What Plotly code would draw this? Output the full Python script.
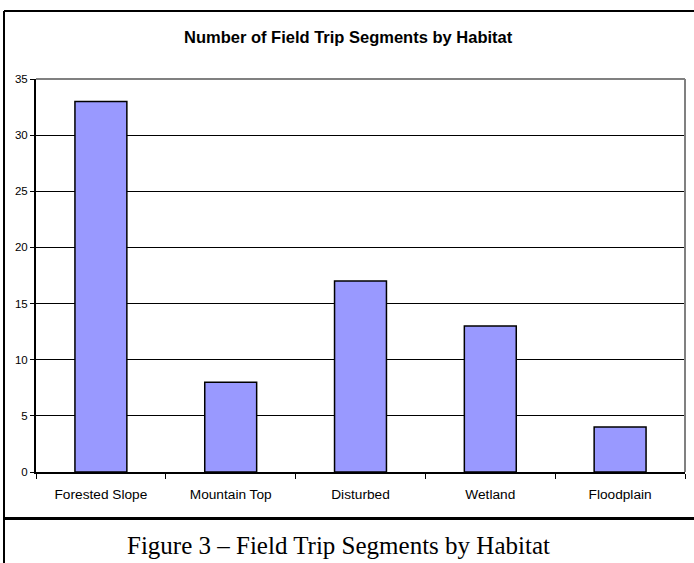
import plotly.graph_objects as go

categories = ["Forested Slope", "Mountain Top", "Disturbed", "Wetland", "Floodplain"]
segments = [33, 8, 17, 13, 4]
y_ticks = [0, 5, 10, 15, 20, 25, 30, 35]

W, H = 694, 563
L, R, T, B = 36, 685, 79, 472

def px(x):
    return (x - L) / (R - L)

def py(y):
    return (B - y) / (B - T)

fig = go.Figure()
fig.add_trace(go.Bar(
    x=categories, y=segments,
    marker=dict(color="#9999FF", line=dict(color="black", width=1.5)),
    width=0.4,
))

shapes = [
    dict(type="line", xref="paper", yref="paper", x0=0, x1=1, y0=1, y1=1,
         line=dict(color="#808080", width=2), layer="above"),
    dict(type="line", xref="paper", yref="paper", x0=1, x1=1, y0=0, y1=1,
         line=dict(color="#808080", width=2), layer="above"),
    dict(type="line", xref="paper", yref="paper", x0=px(4), x1=px(4), y0=py(11), y1=py(563),
         line=dict(color="black", width=2)),
    dict(type="line", xref="paper", yref="paper", x0=px(4), x1=px(700), y0=py(11), y1=py(11),
         line=dict(color="black", width=2)),
    dict(type="line", xref="paper", yref="paper", x0=px(4), x1=px(700), y0=py(518.5), y1=py(518.5),
         line=dict(color="black", width=3)),
]

fig.update_layout(
    width=W, height=H,
    margin=dict(l=L, r=W - R, t=T, b=H - B, pad=0),
    paper_bgcolor="white", plot_bgcolor="white",
    showlegend=False,
    font=dict(family="Liberation Sans, Arial, sans-serif", color="black"),
    shapes=shapes,
    xaxis=dict(
        tickson="boundaries", ticks="outside", ticklen=5, tickwidth=1, tickcolor="black",
        showline=True, linecolor="black", linewidth=2,
        showgrid=False, tickfont=dict(size=13.7), range=[-0.5, 4.5],
        ticklabelstandoff=9,
    ),
    yaxis=dict(
        range=[0, 35], tickvals=y_ticks, ticks="outside", ticklen=4, tickwidth=1,
        tickcolor="black", showline=True, linecolor="black", linewidth=2,
        showgrid=True, gridcolor="black", gridwidth=1, zeroline=False,
        tickfont=dict(size=11.5), ticklabelstandoff=0,
    ),
    annotations=[
        dict(text="<b>Number of Field Trip Segments by Habitat</b>", xref="paper", yref="paper",
             x=px(348), y=py(37), showarrow=False, font=dict(size=16.5),
             xanchor="center", yanchor="middle"),
        dict(text="Figure 3 \u2013 Field Trip Segments by Habitat", xref="paper", yref="paper",
             x=px(338.5), y=py(545), showarrow=False,
             font=dict(size=25, family="Liberation Serif, Times New Roman, serif"),
             xanchor="center", yanchor="middle"),
    ],
)

fig.write_html(
    "out.html",
    config={"displayModeBar": False},
    post_script="document.body.style.margin='0';document.body.style.overflow='hidden';",
)
